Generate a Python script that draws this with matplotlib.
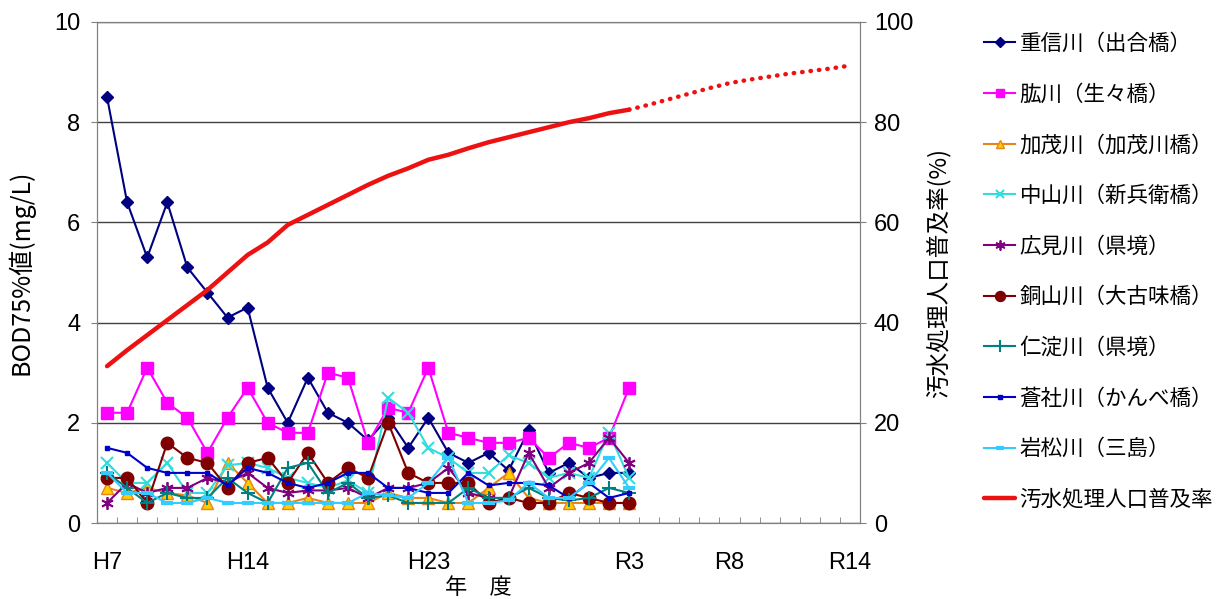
import matplotlib
matplotlib.use('Agg')
import matplotlib.pyplot as plt
import numpy as np

plt.rcParams['font.family'] = ['Noto Sans CJK JP', 'DejaVu Sans']

# fiscal years H7 (1995) .. R14 (2032)
years = ['H%d' % y for y in range(7, 31)] + ['R%d' % y for y in range(1, 15)]
shown_years = ['H7', 'H14', 'H23', 'R3', 'R8', 'R14']

# BOD 75% values (mg/L), H7 .. R3
shigenobu = [8.5, 6.4, 5.3, 6.4, 5.1, 4.6, 4.1, 4.3, 2.7, 2.0, 2.9, 2.2, 2.0, 1.65,
             2.1, 1.5, 2.1, 1.4, 1.2, 1.4, 1.05, 1.85, 1.0, 1.2, 0.9, 1.0, 1.0]
hiji = [2.2, 2.2, 3.1, 2.4, 2.1, 1.4, 2.1, 2.7, 2.0, 1.8, 1.8, 3.0, 2.9, 1.6,
        2.3, 2.2, 3.1, 1.8, 1.7, 1.6, 1.6, 1.7, 1.3, 1.6, 1.5, 1.7, 2.7]
kamo = [0.7, 0.6, 0.7, 0.6, 0.55, 0.4, 1.2, 0.8, 0.4, 0.4, 0.5, 0.4, 0.4, 0.4,
        0.6, 0.5, 0.5, 0.4, 0.4, 0.7, 1.0, 0.5, 0.4, 0.4, 0.4, 0.4, 0.4]
nakayama = [1.2, 0.8, 0.8, 1.2, 0.6, 0.6, 1.15, 1.2, 1.1, 0.9, 0.8, 0.7, 0.85, 0.6,
            2.5, 2.2, 1.5, 1.3, 1.0, 1.0, 1.35, 1.2, 0.9, 1.0, 0.9, 1.8, 0.9]
hiromi = [0.4, 0.8, 0.6, 0.7, 0.7, 0.9, 0.8, 1.0, 0.7, 0.6, 0.65, 0.65, 0.7, 0.5,
          0.7, 0.7, 0.8, 1.1, 0.6, 0.5, 0.5, 1.4, 0.7, 1.0, 1.2, 1.7, 1.2]
dozan = [0.9, 0.9, 0.4, 1.6, 1.3, 1.2, 0.7, 1.2, 1.3, 0.8, 1.4, 0.8, 1.1, 0.9,
         2.0, 1.0, 0.8, 0.8, 0.8, 0.4, 0.5, 0.4, 0.4, 0.6, 0.5, 0.4, 0.4]
niyodo = [1.0, 0.7, 0.4, 0.6, 0.5, 0.5, 0.9, 0.6, 0.4, 1.1, 1.2, 0.6, 0.8, 0.5,
          0.55, 0.4, 0.4, 0.4, 0.7, 0.5, 0.5, 0.7, 0.5, 0.45, 0.5, 0.7, 0.6]
sosha = [1.5, 1.4, 1.1, 1.0, 1.0, 1.0, 0.75, 1.1, 1.0, 0.8, 0.7, 0.8, 1.0, 1.0,
         0.7, 0.7, 0.6, 0.6, 1.0, 0.75, 0.8, 0.8, 0.75, 0.5, 0.8, 0.5, 0.6]
iwamatsu = [1.0, 0.6, 0.6, 0.4, 0.4, 0.5, 0.4, 0.4, 0.4, 0.4, 0.4, 0.4, 0.4, 0.6,
            0.55, 0.5, 0.8, 1.3, 0.4, 0.4, 0.45, 0.8, 0.5, 0.5, 0.8, 1.3, 0.7]

# sewage treatment coverage (%): actual H7..R3, plan R3..R14
coverage = [31.3, 34.5, 37.5, 40.5, 43.5, 46.5, 50.0, 53.5, 56.0, 59.5, 61.5, 63.5,
            65.5, 67.5, 69.3, 70.8, 72.5, 73.5, 74.8, 76.0, 77.0, 78.0, 79.0, 80.0,
            80.8, 81.8, 82.5]
coverage_plan = [82.5, 83.5, 84.6, 85.7, 86.8, 87.8, 88.5, 89.1, 89.7, 90.2, 90.7, 91.3]

rivers = [
    ('重信川（出合橋）', shigenobu, dict(color='#000080', marker='D', ms=6)),
    ('肱川（生々橋）', hiji, dict(color='#FF00FF', marker='s', ms=8)),
    ('加茂川（加茂川橋）', kamo, dict(color='#E8841A', marker='^', ms=8, mfc='#FFCC00')),
    ('中山川（新兵衛橋）', nakayama, dict(color='#33DDDD', marker='x', ms=8, mew=1.5)),
    ('広見川（県境）', hiromi, dict(color='#800080', marker=(6, 2, 0), ms=9, mew=1.3)),
    ('銅山川（大古味橋）', dozan, dict(color='#800000', marker='o', ms=9)),
    ('仁淀川（県境）', niyodo, dict(color='#008080', marker='+', ms=10, mew=1.5)),
    ('蒼社川（かんべ橋）', sosha, dict(color='#0000CC', marker='s', ms=3.5)),
    ('岩松川（三島）', iwamatsu, dict(color='#33CCFF', marker='_', ms=8, mew=3)),
]

x = np.arange(len(years))
n = len(shigenobu)

fig = plt.figure(figsize=(12.25, 5.99), dpi=100)
ax = fig.add_axes([97 / 1225, 1 - 523 / 599, 763 / 1225, 501 / 599])
ax2 = ax.twinx()

handles = []
for name, vals, style in rivers:
    h, = ax.plot(x[:n], vals, lw=1.5, label=name, zorder=3, **style)
    handles.append(h)

red = '#EE1111'
h, = ax2.plot(x[:n], coverage, color=red, lw=3.2, label='汚水処理人口普及率',
              solid_capstyle='round')
handles.append(h)
ax2.plot(x[n - 1:], coverage_plan, color=red, lw=3.2, linestyle=(0, (0.1, 1.8)),
         dash_capstyle='round')

ax.set_xlim(-0.5, len(years) - 0.5)
ax.set_ylim(0, 10)
ax2.set_ylim(0, 100)
ax.set_yticks(np.arange(0, 11, 2))
ax2.set_yticks(np.arange(0, 101, 20))
ax.yaxis.grid(True, color='#404040', lw=1)
ax.set_axisbelow(True)

ax.set_xticks([years.index(y) for y in shown_years])
ax.set_xticklabels(shown_years)
ax.set_xticks(np.arange(-0.5, len(years), 1), minor=True)
ax.tick_params(axis='x', which='major', length=0, pad=21)
ax.tick_params(axis='x', which='minor', direction='in', length=4, color='#808080')

for lab in ax.get_xticklabels() + ax.get_yticklabels() + ax2.get_yticklabels():
    lab.set_fontfamily(['Liberation Sans', 'DejaVu Sans'])
    lab.set_fontsize(17)
ax.tick_params(axis='y', direction='out', length=4, color='#808080', pad=8)
ax2.tick_params(axis='y', direction='out', length=4, color='#808080', pad=6)

for a in (ax, ax2):
    for s in a.spines.values():
        s.set_color('#808080')

ax.set_xlabel('年　度', fontsize=16, labelpad=1)
ax.set_ylabel('BOD75%値(mg/L)', fontsize=18, labelpad=14)
ax2.set_ylabel('汚水処理人口普及率(%)', fontsize=17, labelpad=9)

fig.legend(handles, [hd.get_label() for hd in handles], loc='upper left',
           bbox_to_anchor=(984 / 1225, 1 - 33 / 599), frameon=False,
           fontsize=15.5, handlelength=1.45, handletextpad=0.2, labelspacing=1.33,
           borderpad=0, borderaxespad=0, markerscale=0.8)

fig.savefig('out.png', dpi=100)
